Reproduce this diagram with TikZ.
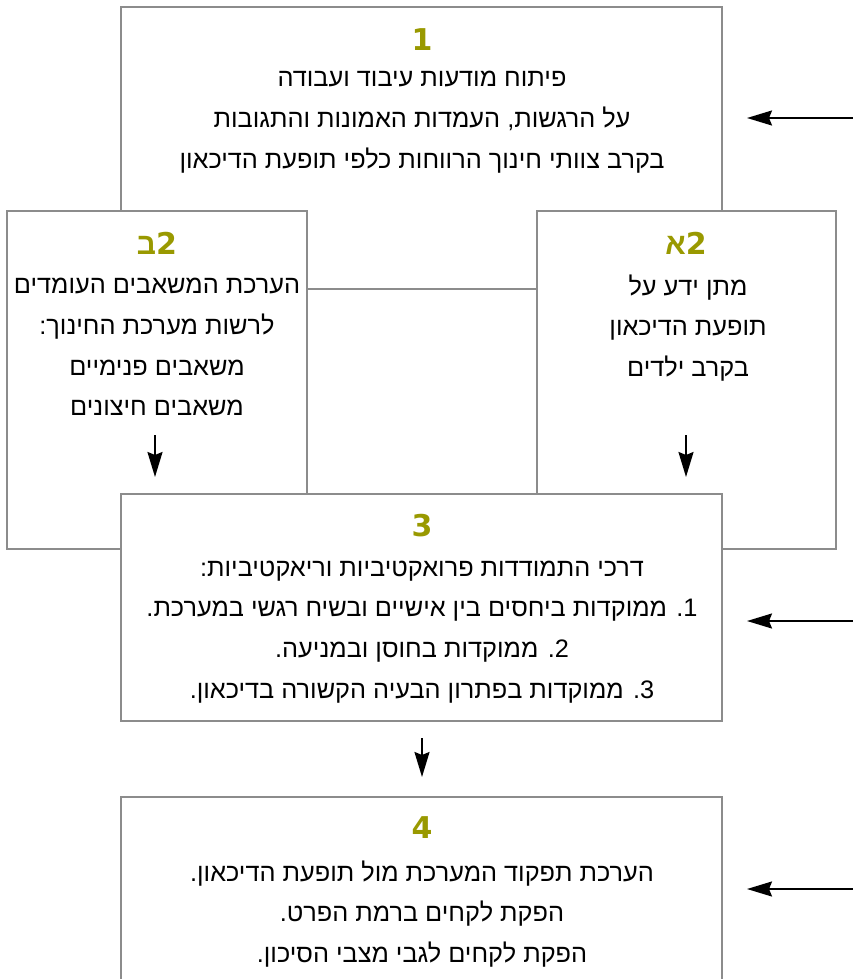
\documentclass[tikz,border=0pt]{standalone}
\usepackage{fontspec}
\usetikzlibrary{arrows.meta}
\TeXXeTstate=1
\newfontfamily\hebfont[Script=Hebrew]{Liberation Sans}
\newfontfamily\numfont{DejaVu Sans}
\definecolor{boxgray}{RGB}{140,140,140}
\definecolor{numolive}{RGB}{153,153,0}
\newcommand{\rl}[1]{\hbox{\beginR #1\endR}}
\begin{document}
\begin{tikzpicture}[x=1pt,y=1pt,
  box/.style={draw=boxgray, line width=2pt, fill=white, inner sep=0pt, outer sep=0pt, anchor=north west},
  lbl/.style={text=numolive, inner sep=0pt, font=\bfseries\fontsize{30}{30}\selectfont},
  body/.style={align=center, inner sep=0pt, font=\hebfont\fontsize{25.3}{40.8}\selectfont},
  arr/.style={line width=2pt, -{Stealth[length=25pt,width=15pt,inset=3pt]}}]
\useasboundingbox (0,0) rectangle (853,-979);
% boxes
\node[box, minimum width=601pt, minimum height=282pt] (b1) at (121,-7) {};
\node[box, minimum width=300pt, minimum height=338pt] (b2b) at (7,-211) {};
\node[box, minimum width=299pt, minimum height=338pt] (b2a) at (537,-211) {};
\node[box, minimum width=601pt, minimum height=227pt] (b3) at (121,-494) {};
\node[box, minimum width=601pt, minimum height=260pt] (b4) at (121,-797) {};
% labels
\node[lbl] (l1) at (422,-40) {\numfont 1};
\node[lbl] (l2b) at (157,-243) {\hbox{\hebfont ב}\hbox{\numfont 2}};
\node[lbl] (l2a) at (686,-243) {\hbox{\hebfont א}\hbox{\numfont 2}};
\node[lbl] (l3) at (422,-526) {\numfont 3};
\node[lbl] (l4) at (422,-828) {\numfont 4};
% body texts
\node[body] (t1) at (422,-122) {\rl{פיתוח מודעות עיבוד ועבודה}\\
\rl{על הרגשות, העמדות האמונות והתגובות}\\
\rl{בקרב צוותי חינוך הרווחות כלפי תופעת הדיכאון}};
\node[body] (t2b) at (157,-347) {\rl{הערכת המשאבים העומדים}\\
\rl{לרשות מערכת החינוך:}\\
\rl{משאבים פנימיים}\\
\rl{משאבים חיצונים}};
\node[body] (t2a) at (688,-328) {\rl{מתן ידע על}\\
\rl{תופעת הדיכאון}\\
\rl{בקרב ילדים}};
\node[body] (t3) at (422,-632) {\rl{דרכי התמודדות פרואקטיביות וריאקטיביות:}\\
\rl{1. ממוקדות ביחסים בין אישיים ובשיח רגשי במערכת.}\\
\rl{2. ממוקדות בחוסן ובמניעה.}\\
\rl{3. ממוקדות בפתרון הבעיה הקשורה בדיכאון.}};
\node[body] (t4) at (422,-914) {\rl{הערכת תפקוד המערכת מול תופעת הדיכאון.}\\
\rl{הפקת לקחים ברמת הפרט.}\\
\rl{הפקת לקחים לגבי מצבי הסיכון.}};
% arrows
\coordinate (r1s) at (853,-118); \coordinate (r1e) at (747,-118);
\coordinate (r3s) at (853,-621); \coordinate (r3e) at (747,-621);
\coordinate (r4s) at (853,-889); \coordinate (r4e) at (747,-889);
\coordinate (d2bs) at (155,-435); \coordinate (d2be) at (155,-477);
\coordinate (d2as) at (686,-435); \coordinate (d2ae) at (686,-477);
\coordinate (d3s) at (422,-738); \coordinate (d3e) at (422,-777);
\draw[arr] (r1s) -- (r1e);
\draw[arr] (r3s) -- (r3e);
\draw[arr] (r4s) -- (r4e);
\draw[arr] (d2bs) -- (d2be);
\draw[arr] (d2as) -- (d2ae);
\draw[arr] (d3s) -- (d3e);
\end{tikzpicture}
\end{document}
